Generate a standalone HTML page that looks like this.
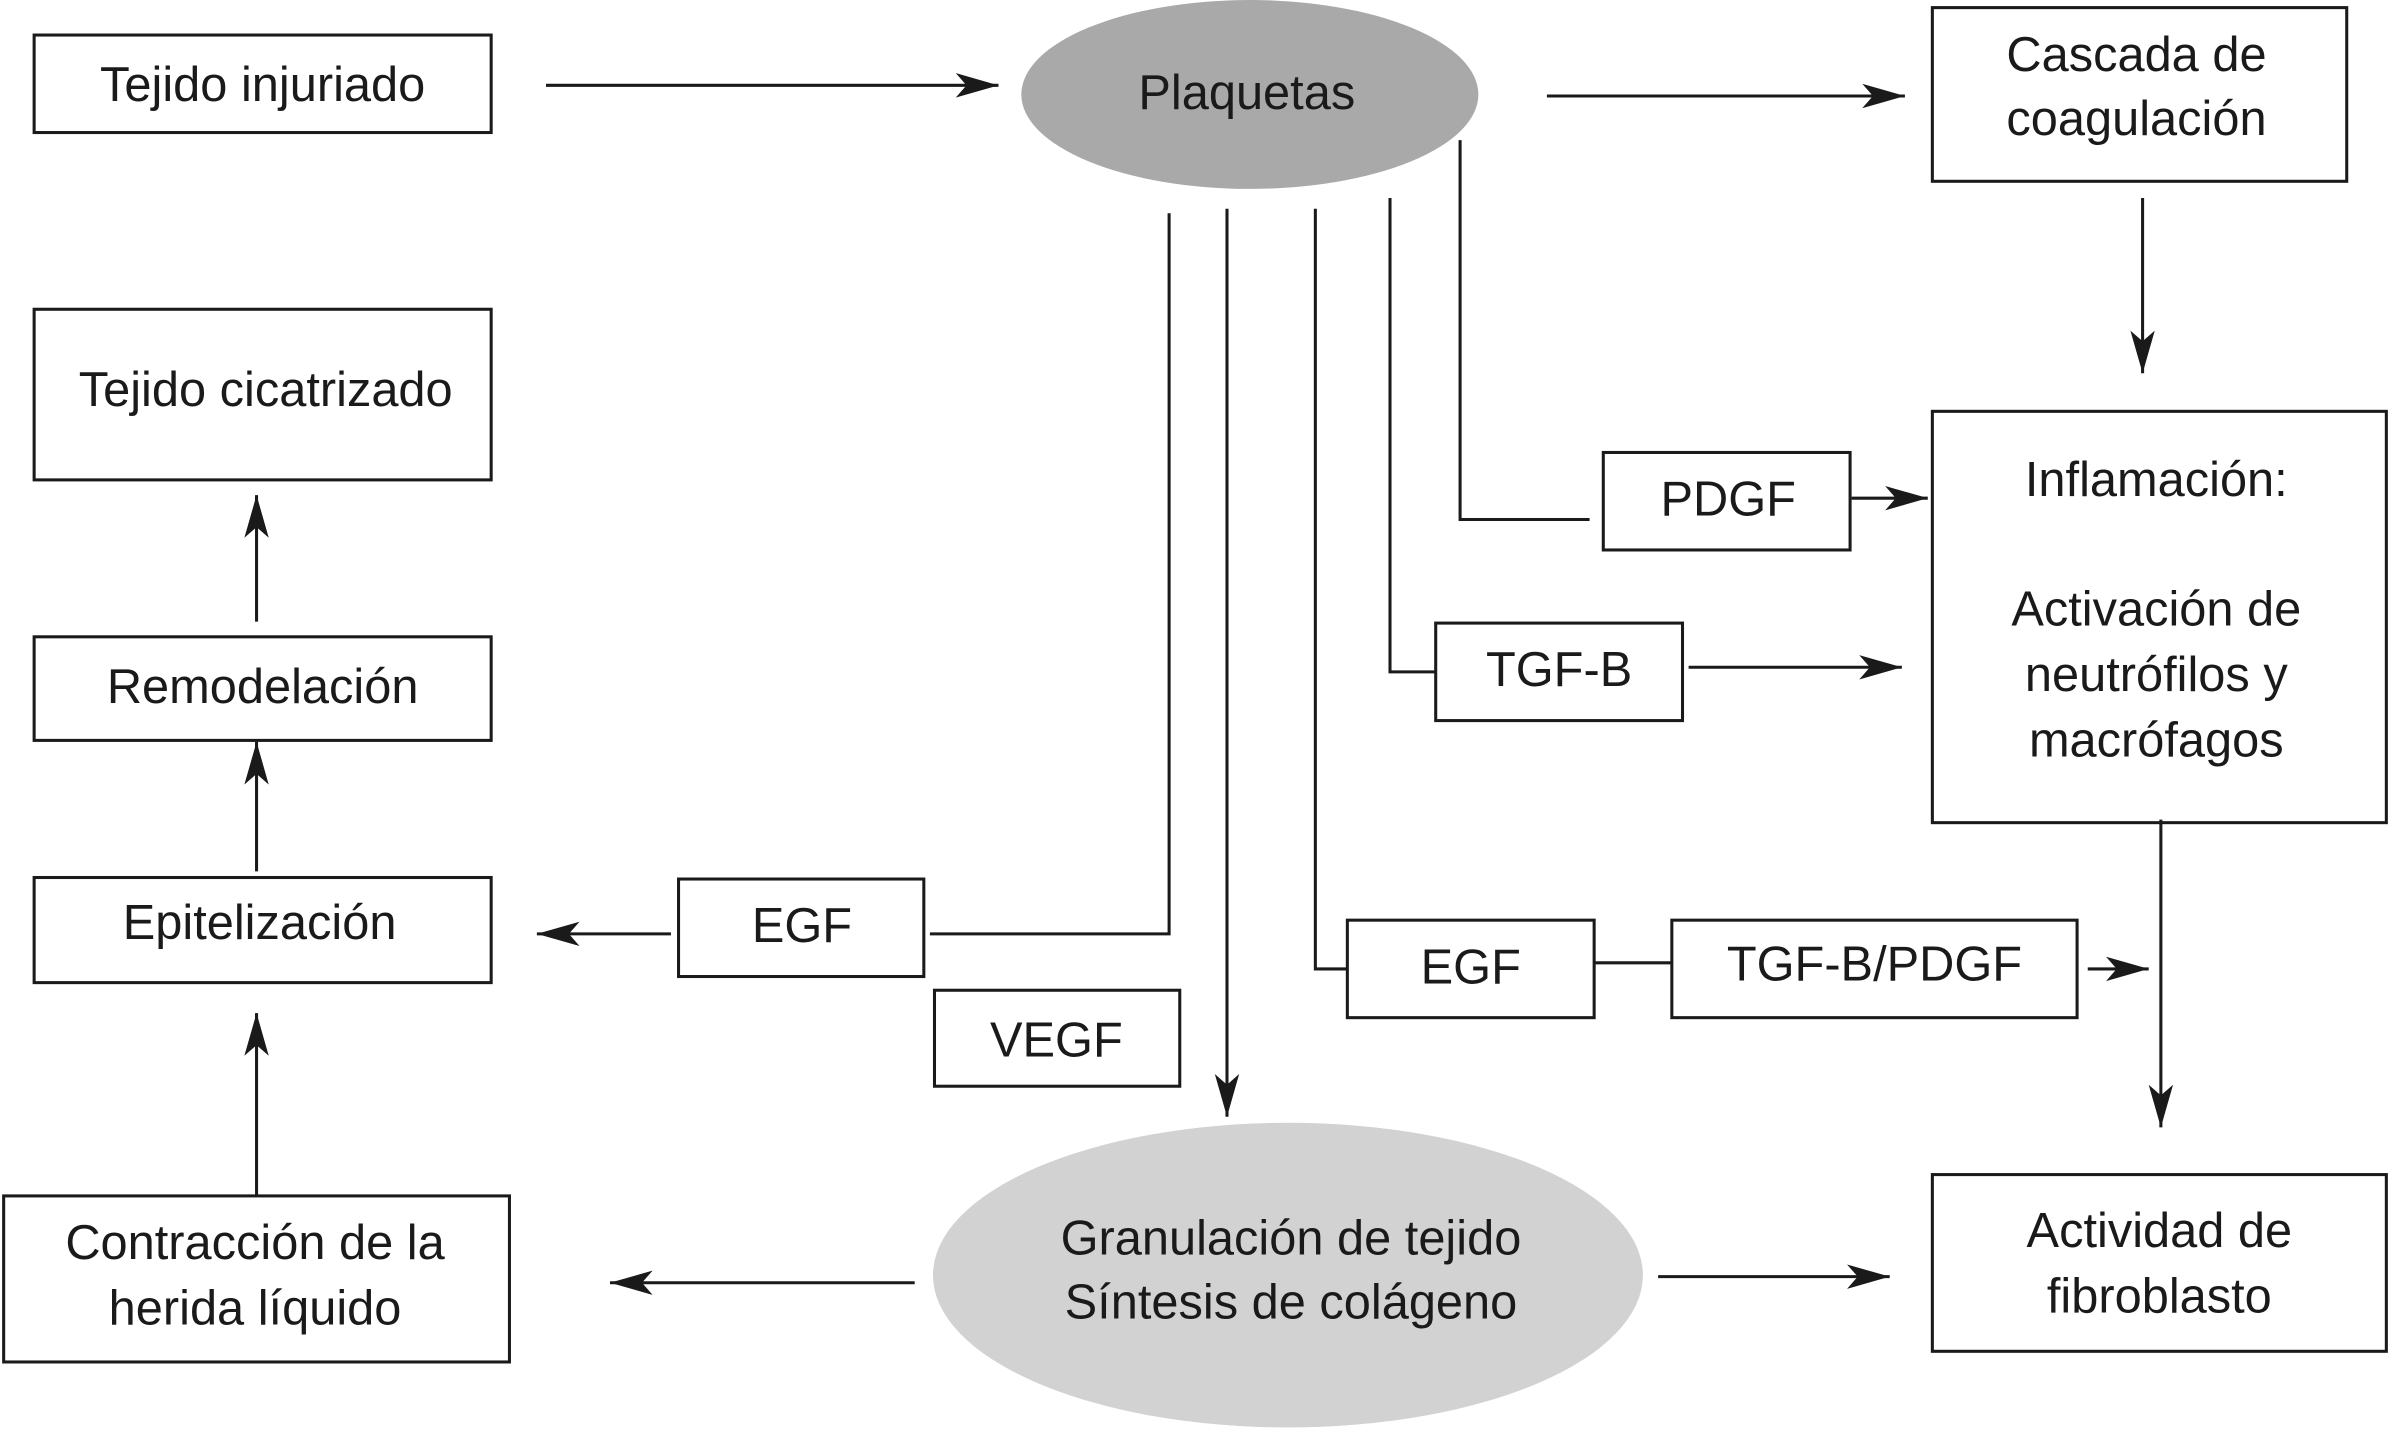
<!DOCTYPE html>
<html><head><meta charset="utf-8"><style>
html,body{margin:0;padding:0;background:#fff;}
svg{display:block;}
text{font-family:"Liberation Sans",Arial,sans-serif;font-size:32px;fill:#1a1a1a;text-anchor:middle;dominant-baseline:middle;}
</style></head><body>
<svg width="2390" height="1429" viewBox="0 0 1568 938" xmlns="http://www.w3.org/2000/svg">
<defs>
<marker id="a" markerWidth="30" markerHeight="20" refX="28" refY="10" orient="auto" markerUnits="userSpaceOnUse">
<path d="M0,2 L28,10 L0,18 L7,10 Z" fill="#1a1a1a"/>
</marker>
</defs>
<g fill="none" stroke="#1a1a1a" stroke-width="2">
<rect x="22" y="23" width="300" height="64"/>
<rect x="1268" y="5" width="272" height="114"/>
<rect x="1268" y="270" width="298" height="270"/>
<rect x="1052" y="297" width="162" height="64"/>
<rect x="942" y="409" width="162" height="64"/>
<rect x="884" y="604" width="162" height="64"/>
<rect x="1097" y="604" width="266" height="64"/>
<rect x="1268" y="771" width="298" height="116"/>
<rect x="445" y="577" width="161" height="64"/>
<rect x="613" y="650" width="161" height="63"/>
<rect x="2" y="785" width="332" height="109"/>
<rect x="22" y="576" width="300" height="69"/>
<rect x="22" y="418" width="300" height="68"/>
<rect x="22" y="203" width="300" height="112"/>

<line x1="358" y1="56" x2="655" y2="56" marker-end="url(#a)"/>
<line x1="1015" y1="63" x2="1250" y2="63" marker-end="url(#a)"/>
<line x1="1406" y1="130" x2="1406" y2="245" marker-end="url(#a)"/>
<polyline points="958,92 958,341 1043,341"/>
<line x1="1215" y1="327" x2="1265" y2="327" marker-end="url(#a)"/>
<polyline points="912,130 912,441 942,441"/>
<line x1="1108" y1="438" x2="1248" y2="438" marker-end="url(#a)"/>
<polyline points="863,137 863,636 884,636"/>
<line x1="1046" y1="632" x2="1097" y2="632"/>
<line x1="1370" y1="636" x2="1410" y2="636" marker-end="url(#a)"/>
<line x1="1418" y1="538" x2="1418" y2="740" marker-end="url(#a)"/>
<line x1="805" y1="137" x2="805" y2="733" marker-end="url(#a)"/>
<polyline points="767,140 767,613 610,613"/>
<line x1="440" y1="613" x2="352" y2="613" marker-end="url(#a)"/>
<line x1="600" y1="842" x2="400" y2="842" marker-end="url(#a)"/>
<line x1="1088" y1="838" x2="1240" y2="838" marker-end="url(#a)"/>
<line x1="168" y1="785" x2="168" y2="665" marker-end="url(#a)"/>
<line x1="168" y1="572" x2="168" y2="487" marker-end="url(#a)"/>
<line x1="168" y1="408" x2="168" y2="325" marker-end="url(#a)"/>
</g>
<ellipse cx="820" cy="62" rx="150" ry="62" fill="#a9a9a9"/>
<ellipse cx="845" cy="837" rx="233" ry="100" fill="#d2d2d2"/>

<text x="172" y="58">Tejido injuriado</text>
<text x="818" y="63">Plaquetas</text>
<text x="1402" y="38">Cascada de</text>
<text x="1402" y="80">coagulación</text>
<text x="1415" y="317">Inflamación:</text>
<text x="1415" y="402">Activación de</text>
<text x="1415" y="445">neutrófilos y</text>
<text x="1415" y="488">macrófagos</text>
<text x="1134" y="330">PDGF</text>
<text x="1023" y="442">TGF-B</text>
<text x="965" y="637">EGF</text>
<text x="1230" y="635">TGF-B/PDGF</text>
<text x="1417" y="810">Actividad de</text>
<text x="1417" y="853">fibroblasto</text>
<text x="526" y="610">EGF</text>
<text x="693" y="685">VEGF</text>
<text x="847" y="815">Granulación de tejido</text>
<text x="847" y="857">Síntesis de colágeno</text>
<text x="167" y="818">Contracción de la</text>
<text x="167" y="861">herida líquido</text>
<text x="170" y="608">Epitelización</text>
<text x="172" y="453">Remodelación</text>
<text x="174" y="258">Tejido cicatrizado</text>
</svg>
</body></html>
